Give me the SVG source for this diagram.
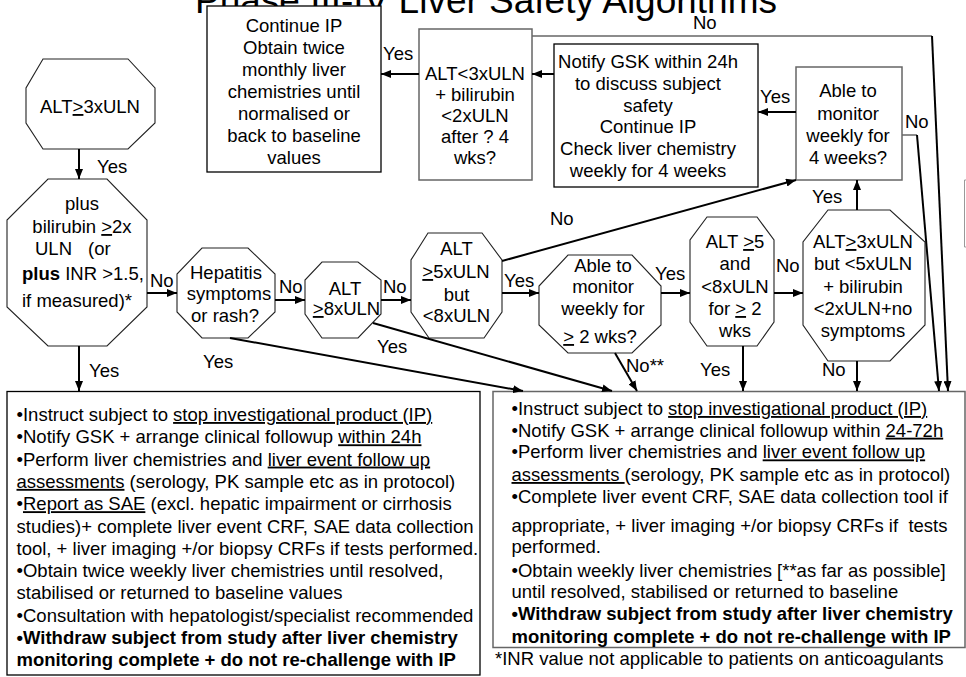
<svg xmlns="http://www.w3.org/2000/svg" width="966" height="677" viewBox="0 0 966 677">
<style>
text{font-family:"Liberation Sans",Arial,sans-serif;font-size:18.5px;fill:#000}
.c{text-anchor:middle}
.u{text-decoration:underline}
.b{font-weight:bold}
.title{font-size:37px}
.box{fill:#fff;stroke:#000;stroke-width:1.3}
.gbox{fill:#fff;stroke:#666;stroke-width:1.5}
.oct{fill:#fff;stroke:#222;stroke-width:1.1}
.ln{fill:none;stroke:#000;stroke-width:2}
.gl{fill:none;stroke:#666;stroke-width:1.5}
</style>
<defs>
<marker id="ah" markerUnits="userSpaceOnUse" markerWidth="10" markerHeight="8" refX="10" refY="4" orient="auto">
<path d="M0,0 L10,4 L0,8 z" fill="#000"/>
</marker>
</defs>
<rect width="966" height="677" fill="#fff"/>
<text class="title" x="195" y="13">Phase III-IV Liver Safety Algorithms</text>

<g id="n_continue">
<rect class="box" x="207" y="6" width="174" height="166"/>
<text class="c" x="294" y="31.5">Continue IP</text>
<text class="c" x="294" y="53.5">Obtain twice</text>
<text class="c" x="294" y="75.5">monthly liver</text>
<text class="c" x="294" y="97.5">chemistries until</text>
<text class="c" x="294" y="119.5">normalised or</text>
<text class="c" x="294" y="141.5">back to baseline</text>
<text class="c" x="294" y="163.5">values</text>
</g>

<g id="n_alt3">
<rect class="gbox" x="419" y="29" width="113" height="151"/>
<text class="c" x="475" y="80">ALT&lt;3xULN</text>
<text class="c" x="475" y="101">+ bilirubin</text>
<text class="c" x="475" y="122">&lt;2xULN</text>
<text class="c" x="475" y="143">after ? 4</text>
<text class="c" x="475" y="164">wks?</text>
</g>

<g id="n_notify">
<rect class="box" x="554" y="44" width="204" height="143"/>
<text class="c" x="648" y="68">Notify GSK within 24h</text>
<text class="c" x="648" y="90">to discuss subject</text>
<text class="c" x="648" y="111.5">safety</text>
<text class="c" x="648" y="133">Continue IP</text>
<text class="c" x="648" y="155">Check liver chemistry</text>
<text class="c" x="648" y="177">weekly for 4 weeks</text>
</g>

<g id="n_able4">
<rect class="gbox" x="796" y="67" width="106" height="113"/>
<text class="c" x="848" y="97">Able to</text>
<text class="c" x="848" y="119.5">monitor</text>
<text class="c" x="848" y="141.5">weekly for</text>
<text class="c" x="848" y="164">4 weeks?</text>
</g>

<g id="n_start">
<polygon class="oct" points="43,59 128,59 155,88 155,123 128,149 43,149 26,123 26,88"/>
<text class="c" x="90" y="113">ALT<tspan class="u">&gt;</tspan>3xULN</text>
</g>

<g id="n_bili">
<polygon class="oct" points="48,179 107,179 147,220 147,307 107,346 48,346 7,307 7,220"/>
<text class="c" x="82" y="210">plus</text>
<text class="c" x="82" y="233">bilirubin <tspan class="u">&gt;</tspan>2x</text>
<text x="35" y="255">ULN</text>
<text x="88" y="255">(or</text>
<text x="22" y="280"><tspan class="b">plus</tspan> INR &gt;1.5,</text>
<text x="22" y="306.5">if measured)*</text>
</g>

<g id="n_hep">
<polygon class="oct" points="202,248 248,248 275,274 275,312 248,338 202,338 177,312 177,274"/>
<text class="c" x="226" y="278.5">Hepatitis</text>
<text class="c" x="229" y="300">symptoms</text>
<text class="c" x="225" y="321.5">or rash?</text>
</g>

<g id="n_alt8">
<polygon class="oct" points="322,262 358,262 381,280 381,314 358,338 322,338 305,314 305,280"/>
<text class="c" x="345" y="295">ALT</text>
<text class="c" x="346.5" y="315"><tspan class="u">&gt;</tspan>8xULN</text>
</g>

<g id="n_alt5">
<polygon class="oct" points="428,233 482,233 502,260 502,312 484,338 429,338 411,312 411,260"/>
<text class="c" x="456.5" y="255">ALT</text>
<text class="c" x="456" y="278"><tspan class="u">&gt;</tspan>5xULN</text>
<text class="c" x="456.5" y="300.5">but</text>
<text class="c" x="456.5" y="321.5">&lt;8xULN</text>
</g>

<g id="n_able2">
<polygon class="oct" points="568,255 632,255 661,286 661,325 632,353 568,353 539,325 539,286"/>
<text class="c" x="603" y="271.5">Able to</text>
<text class="c" x="603" y="293">monitor</text>
<text class="c" x="603" y="315">weekly for</text>
<text class="c" x="600" y="343"><tspan class="u">&gt;</tspan> 2 wks?</text>
</g>

<g id="n_alt58">
<polygon class="oct" points="707,217 757,217 774,240 774,322 757,346 707,346 690,322 690,240"/>
<text class="c" x="735" y="248">ALT <tspan class="u">&gt;</tspan>5</text>
<text class="c" x="735" y="270">and</text>
<text class="c" x="735" y="293">&lt;8xULN</text>
<text class="c" x="735" y="315">for <tspan class="u">&gt;</tspan> 2</text>
<text class="c" x="735" y="336.5">wks</text>
</g>

<g id="n_alt35">
<polygon class="oct" points="828,210 890,210 925,242 925,325 890,361 828,361 803,325 803,242"/>
<text class="c" x="863" y="248">ALT<tspan class="u">&gt;</tspan>3xULN</text>
<text class="c" x="863" y="270">but &lt;5xULN</text>
<text class="c" x="863" y="293">+ bilirubin</text>
<text class="c" x="863" y="315">&lt;2xULN+no</text>
<text class="c" x="863" y="336.5">symptoms</text>
</g>

<g id="n_stop24">
<rect class="box" x="7" y="391.5" width="473" height="283.5"/>
<text x="16.5" y="421">•Instruct subject to <tspan class="u">stop investigational product (IP)</tspan></text>
<text x="16.5" y="443.3">•Notify GSK + arrange clinical followup <tspan class="u">within 24h</tspan></text>
<text x="16.5" y="465.6">•Perform liver chemistries and <tspan class="u">liver event follow up</tspan></text>
<text x="16.5" y="487.9"><tspan class="u">assessments</tspan> (serology, PK sample etc as in protocol)</text>
<text x="16.5" y="510.2">•<tspan class="u">Report as SAE</tspan> (excl. hepatic impairment or cirrhosis</text>
<text x="16.5" y="532.5">studies)+ complete liver event CRF, SAE data collection</text>
<text x="16.5" y="554.8">tool, + liver imaging +/or biopsy CRFs if tests performed.</text>
<text x="16.5" y="577.1">•Obtain twice weekly liver chemistries until resolved,</text>
<text x="16.5" y="599.4">stabilised or returned to baseline values</text>
<text x="16.5" y="621.7">•Consultation with hepatologist/specialist recommended</text>
<text class="b" x="16.5" y="644">•Withdraw subject from study after liver chemistry</text>
<text class="b" x="16.5" y="666.3">monitoring complete + do not re-challenge with IP</text>
</g>

<g id="n_stop72">
<rect class="gbox" x="493" y="391.5" width="472" height="256"/>
<text x="511.5" y="415">•Instruct subject to <tspan class="u">stop investigational product (IP)</tspan></text>
<text x="511.5" y="436.7">•Notify GSK + arrange clinical followup within <tspan class="u">24-72h</tspan></text>
<text x="511.5" y="458.4">•Perform liver chemistries and <tspan class="u">liver event follow up</tspan></text>
<text x="511.5" y="481"><tspan class="u">assessments </tspan>(serology, PK sample etc as in protocol)</text>
<text x="511.5" y="503">•Complete liver event CRF, SAE data collection tool if</text>
<text x="511.5" y="531.5" style="white-space:pre">appropriate, + liver imaging +/or biopsy CRFs if  tests</text>
<text x="511.5" y="553.3">performed.</text>
<text x="511.5" y="576.5">•Obtain weekly liver chemistries [**as far as possible]</text>
<text x="511.5" y="598.2">until resolved, stabilised or returned to baseline</text>
<text class="b" x="511.5" y="620">•Withdraw subject from study after liver chemistry</text>
<text class="b" x="511.5" y="642.5">monitoring complete + do not re-challenge with IP</text>
</g>

<text x="495" y="665">*INR value not applicable to patients on anticoagulants</text>
<polyline points="966,180 964.5,180 964.5,247 966,247" fill="none" stroke="#999" stroke-width="1"/>

<g id="connectors">
<line class="ln" x1="79" y1="149" x2="79" y2="179" marker-end="url(#ah)"/>
<text x="97" y="173">Yes</text>
<line class="ln" x1="147" y1="293" x2="177" y2="293" marker-end="url(#ah)"/>
<text x="150" y="287">No</text>
<line class="ln" x1="275" y1="300" x2="305" y2="300" marker-end="url(#ah)"/>
<text x="279" y="293">No</text>
<line class="ln" x1="381" y1="300" x2="411" y2="300" marker-end="url(#ah)"/>
<text x="383" y="293">No</text>
<line class="ln" x1="502" y1="293" x2="539" y2="293" marker-end="url(#ah)"/>
<text x="504" y="287">Yes</text>
<line class="ln" x1="502" y1="261" x2="796" y2="180" marker-end="url(#ah)"/>
<text x="550" y="225">No</text>
<line class="ln" x1="661" y1="293" x2="690" y2="293" marker-end="url(#ah)"/>
<text x="655" y="280">Yes</text>
<line class="ln" x1="774" y1="293" x2="803" y2="293" marker-end="url(#ah)"/>
<text x="776" y="272">No</text>
<line class="ln" x1="857" y1="210" x2="857" y2="180" marker-end="url(#ah)"/>
<text x="812" y="203">Yes</text>
<line class="ln" x1="796" y1="112" x2="758" y2="112" marker-end="url(#ah)"/>
<text x="760" y="103">Yes</text>
<line class="ln" x1="554" y1="74" x2="532" y2="74" marker-end="url(#ah)"/>
<line class="ln" x1="419" y1="74" x2="381" y2="74" marker-end="url(#ah)"/>
<text x="383" y="60">Yes</text>
<line class="gl" x1="532" y1="36" x2="932" y2="36"/>
<line class="ln" x1="932" y1="36" x2="948" y2="391" marker-end="url(#ah)"/>
<text x="693" y="29">No</text>
<line class="gl" x1="902" y1="135" x2="917" y2="135"/>
<line class="ln" x1="917" y1="135" x2="939" y2="391" marker-end="url(#ah)"/>
<text x="905" y="128">No</text>
<line class="ln" x1="79" y1="346" x2="79" y2="391" marker-end="url(#ah)"/>
<text x="89" y="377">Yes</text>
<line class="ln" x1="230" y1="338" x2="523" y2="391" marker-end="url(#ah)"/>
<text x="203" y="368">Yes</text>
<line class="ln" x1="373" y1="323" x2="612" y2="391" marker-end="url(#ah)"/>
<text x="377" y="353">Yes</text>
<line class="ln" x1="615" y1="353" x2="637" y2="391" marker-end="url(#ah)"/>
<text x="626" y="372">No**</text>
<line class="ln" x1="743" y1="346" x2="743" y2="391" marker-end="url(#ah)"/>
<text x="700" y="376">Yes</text>
<line class="ln" x1="857" y1="361" x2="857" y2="391" marker-end="url(#ah)"/>
<text x="822" y="376">No</text>
</g>
</svg>
